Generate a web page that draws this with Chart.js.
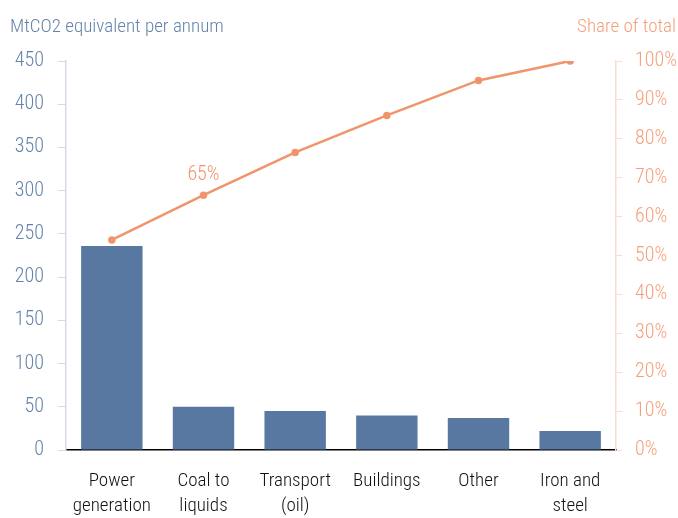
<!DOCTYPE html>
<html>
<head>
<meta charset="utf-8">
<script src="https://cdn.jsdelivr.net/npm/chart.js@4/dist/chart.umd.min.js"></script>
<style>
  body { margin: 0; background: #fff; }
  #wrap { position: relative; width: 678px; height: 518px; }
  .ttl { position: absolute; top: 14px; font-family: "Roboto Condensed", sans-serif; font-weight: 300; font-size: 19px; }
</style>
</head>
<body>
<div id="wrap">
  <canvas id="myChart" width="678" height="518"></canvas>
  <div class="ttl" style="left:10px;color:#6583aa;">MtCO2 equivalent per annum</div>
  <div class="ttl" style="right:2px;color:#f4a07c;">Share of total</div>
</div>
<script>
const categories = [["Power", "generation"], ["Coal to", "liquids"], ["Transport", "(oil)"], "Buildings", "Other", ["Iron and", "steel"]];
const emissions = [236, 50, 45, 40, 37, 22];
const shareOfTotal = [54, 65.5, 76.5, 86, 95, 100];
const labelledPoint = 1;
const labelText = "65%";

const FONT = "'Roboto Condensed', sans-serif";
const BLUE = "#5878a1";
const ORANGE = "#f0946b";

// draws the single "65%" callout above the line
const pointLabel = {
    id: "pointLabel",
    afterDatasetsDraw(chart) {
        const pt = chart.getDatasetMeta(1).data[labelledPoint];
        const ctx = chart.ctx;
        ctx.save();
        ctx.font = "300 20px " + FONT;
        ctx.fillStyle = ORANGE;
        ctx.textAlign = "center";
        ctx.textBaseline = "bottom";
        ctx.fillText(labelText, pt.x, pt.y - 10);
        ctx.restore();
    }
};

new Chart(document.getElementById("myChart"), {
    data: {
        labels: categories,
        datasets: [{
            type: "bar",
            data: emissions,
            backgroundColor: BLUE,
            yAxisID: "y",
            barPercentage: 0.67,
            categoryPercentage: 1,
            order: 2
        }, {
            type: "line",
            data: shareOfTotal,
            borderColor: ORANGE,
            backgroundColor: ORANGE,
            borderWidth: 2.5,
            pointRadius: 2.5,
            pointHoverRadius: 2.5,
            yAxisID: "y1",
            order: 1
        }]
    },
    plugins: [pointLabel],
    options: {
        responsive: false,
        animation: false,
        layout: { padding: { top: 61, left: 0, right: 0, bottom: 0 } },
        plugins: { legend: { display: false }, tooltip: { enabled: false } },
        scales: {
            x: {
                grid: { display: false },
                border: { color: "#000", width: 1.5 },
                ticks: { color: "#111", font: { family: FONT, size: 19, weight: 300, lineHeight: 1.3 }, padding: 11, maxRotation: 0 },
                afterFit(scale) { scale.height = 68; }
            },
            y: {
                position: "left",
                min: 0, max: 450,
                ticks: { stepSize: 50, color: "#6583aa", font: { family: FONT, size: 20, weight: 300 }, padding: 14 },
                grid: { drawOnChartArea: false, color: "#d3dae6", tickLength: 8 },
                border: { color: "#d3dae6", width: 1.5 },
                afterFit(scale) { scale.width = 66; }
            },
            y1: {
                position: "right",
                min: 0, max: 100,
                ticks: {
                    stepSize: 5,
                    color: "#f4a07c",
                    font: { family: FONT, size: 20, weight: 300 },
                    padding: 13,
                    callback: (v) => v % 10 === 0 ? v + "%" : ""
                },
                grid: { drawOnChartArea: false, color: "#fbdccd", tickLength: 6 },
                border: { color: "#fbdccd", width: 1.5 },
                afterFit(scale) { scale.width = 62; }
            }
        }
    }
});
</script>
</body>
</html>
